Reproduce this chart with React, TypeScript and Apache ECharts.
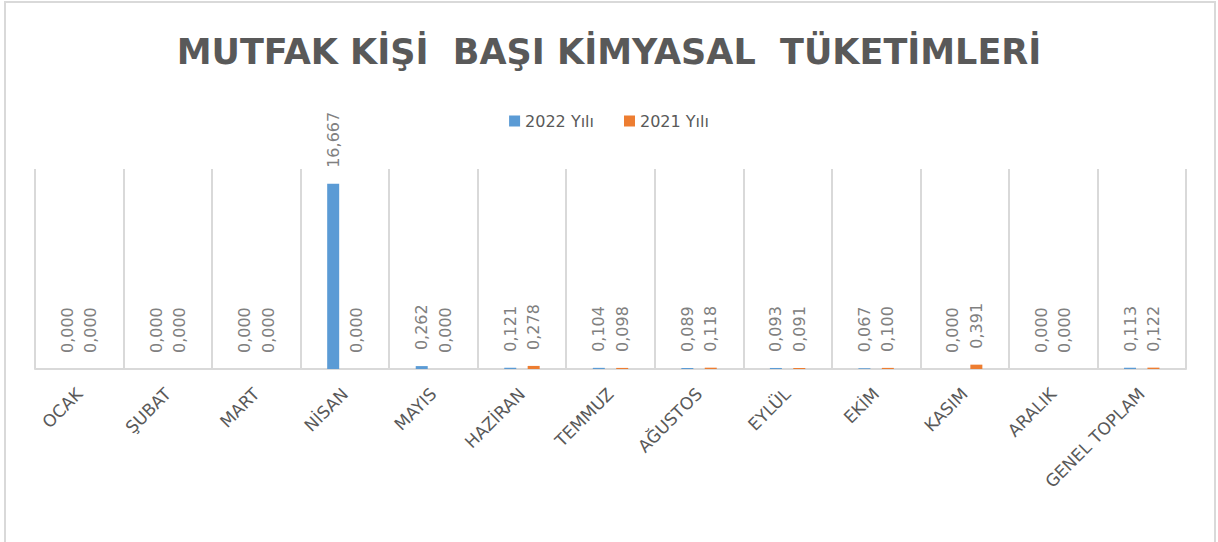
import React, { useEffect, useRef } from "react";
import * as echarts from "echarts";

const categories = ["OCAK", "ŞUBAT", "MART", "NİSAN", "MAYIS", "HAZİRAN", "TEMMUZ", "AĞUSTOS", "EYLÜL", "EKİM", "KASIM", "ARALIK", "GENEL TOPLAM"];
const values2022 = [0, 0, 0, 16.667, 0.262, 0.121, 0.104, 0.089, 0.093, 0.067, 0, 0, 0.113];
const values2021 = [0, 0, 0, 0, 0, 0.278, 0.098, 0.118, 0.091, 0.1, 0.391, 0, 0.122];
const seriesNames = ["2022 Yılı", "2021 Yılı"];
const titleText = "MUTFAK KİŞİ  BAŞI KİMYASAL  TÜKETİMLERİ";

export default function App() {
  const ref = useRef<HTMLDivElement>(null);
  useEffect(() => {
    document.body.style.margin = "0";
    const chart = echarts.init(ref.current!, undefined, { renderer: "svg" });
    const fmt = (p: any) => Number(p.value).toFixed(3).replace(".", ",");
    const label = {
      show: true,
      position: "top",
      rotate: 90,
      align: "left",
      verticalAlign: "middle",
      distance: 16,
      formatter: fmt,
      color: "#808080",
      fontFamily: "DejaVu Sans",
      fontSize: 16,
    };
    chart.setOption({
      animation: false,
      backgroundColor: "#ffffff",
      title: {
        text: titleText,
        left: "center",
        top: 29,
        textStyle: {
          fontFamily: "DejaVu Sans",
          fontWeight: "bold",
          fontSize: 35,
          color: "#595959",
        },
      },
      legend: {
        top: 108,
        left: "center",
        itemWidth: 11,
        itemHeight: 11,
        itemGap: 30,
        icon: "rect",
        textStyle: { fontFamily: "DejaVu Sans", fontSize: 16, color: "#595959" },
        data: seriesNames,
      },
      graphic: [
        {
          type: "rect",
          shape: { x: 5, y: 2, width: 1210, height: 600 },
          style: { fill: "none", stroke: "#d9d9d9", lineWidth: 2 },
          silent: true,
        },
      ],
      grid: { left: 35, right: 32, top: 169, bottom: 173 },
      xAxis: {
        type: "category",
        data: categories,
        boundaryGap: true,
        axisLine: { lineStyle: { color: "#d9d9d9", width: 2 } },
        axisTick: { show: false },
        splitLine: { show: true, interval: 0, lineStyle: { color: "#d9d9d9", width: 2 } },
        axisLabel: {
          interval: 0,
          rotate: 45,
          margin: 22,
          color: "#595959",
          fontFamily: "DejaVu Sans",
          fontSize: 17,
        },
      },
      yAxis: { type: "value", min: 0, max: 18, show: false },
      series: [
        {
          name: seriesNames[0],
          type: "bar",
          data: values2022,
          barWidth: 12,
          barGap: "95%",
          itemStyle: { color: "#5b9bd5" },
          label,
        },
        {
          name: seriesNames[1],
          type: "bar",
          data: values2021,
          barWidth: 12,
          barGap: "95%",
          itemStyle: { color: "#ed7d31" },
          label,
        },
      ],
    });
    return () => chart.dispose();
  }, []);
  return <div ref={ref} style={{ width: 1218, height: 542 }} />;
}
